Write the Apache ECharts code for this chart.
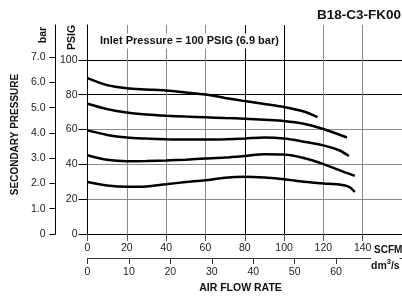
<!DOCTYPE html>
<html>
<head>
<meta charset="utf-8">
<script src="https://cdn.jsdelivr.net/npm/echarts@6/dist/echarts.min.js"></script>
<style>html,body{margin:0;padding:0;background:#fff;}#c{width:402px;height:298px;}</style>
</head>
<body>
<div id="c"></div>
<script>
// Tick labels
const flowTicks = [0, 20, 40, 60, 80, 100, 120, 140];     // SCFM
const dm3Ticks = [0, 10, 20, 30, 40, 50, 60];              // dm3/s
const psigTicks = [0, 20, 40, 60, 80, 100];                // PSIG
const barTicks = [0, 1, 2, 3, 4, 5, 6, 7];                 // bar

// Curves: [SCFM, PSIG]
const curve1 = [[0,89.5],[10,85.5],[20,83.7],[30,83.0],[40,82.4],[50,81.3],[60,80.1],[70,78.1],[80,76.3],[90,74.7],[100,72.9],[110,70.3],[117,67.1]];
const curve2 = [[0,74.8],[10,71.7],[20,69.7],[30,68.6],[40,67.9],[50,67.4],[60,67.0],[70,66.6],[80,66.2],[90,65.6],[100,64.9],[110,63.3],[120,60.3],[132,55.4]];
const curve3 = [[0,59.5],[10,56.9],[20,55.4],[30,54.8],[40,54.4],[50,54.2],[60,54.2],[70,54.4],[80,54.8],[90,55.4],[100,54.8],[110,53.0],[120,50.9],[128,48.1],[133,44.8]];
const curve4 = [[0,45.2],[10,42.6],[20,41.8],[30,41.9],[40,42.2],[50,42.7],[60,43.3],[70,43.9],[80,44.8],[90,45.8],[100,45.6],[110,43.6],[120,40.1],[130,35.8],[136,33.4]];
const curve5 = [[0,29.9],[10,27.9],[20,27.1],[30,27.3],[40,28.6],[50,29.8],[60,30.9],[70,32.3],[80,32.8],[90,32.4],[100,31.5],[110,30.0],[120,29.0],[128,28.4],[133,27.1],[136,24.2]];
const curves = [curve1, curve2, curve3, curve4, curve5];

const FONT = '"Liberation Sans", Arial, Helvetica, sans-serif';
const G = '#8a8a8a', K = '#000';

const chart = echarts.init(document.getElementById('c'), null, {renderer: 'canvas'});
chart.setOption({
  animation: false,
  backgroundColor: '#fff',
  grid: {left: 87.5, right: 0, top: 25, bottom: 64, containLabel: false},
  xAxis: [{
    type: 'value', min: 0, max: 160, interval: 20, position: 'bottom',
    axisLine: {show: true, onZero: false, lineStyle: {color: K, width: 1}},
    axisTick: {show: true, length: 7, customValues: flowTicks, lineStyle: {color: '#555'}},
    axisLabel: {customValues: flowTicks, margin: 9, fontSize: 10.5, fontFamily: FONT, color: '#222'},
    splitLine: {show: true, lineStyle: {color: [K, G, G, G, K, K, G, G, G], width: 1}}
  }, {
    type: 'value', min: 0, max: 75.9, interval: 10, position: 'bottom', offset: 24,
    axisLine: {show: true, onZero: false, lineStyle: {color: '#333', width: 1}},
    axisTick: {show: true, length: 6, customValues: dm3Ticks, lineStyle: {color: '#333'}},
    axisLabel: {customValues: dm3Ticks, margin: 9, fontSize: 10.5, fontFamily: FONT, color: '#222'},
    splitLine: {show: false}
  }],
  yAxis: [{
    type: 'value', min: 0, max: 120, interval: 20, position: 'left',
    axisLine: {show: true, onZero: false, lineStyle: {color: K, width: 1}},
    axisTick: {show: true, length: 9, customValues: psigTicks, lineStyle: {color: K}},
    axisLabel: {customValues: psigTicks, margin: 10, fontSize: 10.5, fontFamily: FONT, color: '#222'},
    splitLine: {show: true, lineStyle: {color: [K, G, G, G, K, K, K], width: 1}}
  }, {
    type: 'value', min: 0, max: 120 / 14.5038, interval: 1, position: 'left', offset: 32,
    axisLine: {show: true, onZero: false, lineStyle: {color: K, width: 1}},
    axisTick: {show: true, length: 6, customValues: barTicks, lineStyle: {color: K}},
    axisLabel: {customValues: barTicks, margin: 10, fontSize: 10.5, fontFamily: FONT, color: '#222',
      formatter: v => v === 0 ? '0' : v.toFixed(1)},
    splitLine: {show: false}
  }],
  series: curves.map(c => ({
    type: 'line', xAxisIndex: 0, yAxisIndex: 0, data: c, smooth: 0.3,
    symbol: 'none', lineStyle: {color: K, width: 2.5}
  })),
  graphic: [
    {type: 'text', x: 317, y: 15, style: {text: 'B18-C3-FK00', font: 'bold 13.5px ' + FONT, fill: '#111', verticalAlign: 'middle'}},
    {type: 'text', x: 98, y: 41, z: 100, style: {text: 'Inlet Pressure = 100 PSIG (6.9 bar)', font: 'bold 11px ' + FONT, fill: '#111', verticalAlign: 'middle', backgroundColor: '#fff', padding: [2, 2]}},
    {type: 'text', x: 15, y: 134.5, rotation: Math.PI / 2, style: {text: 'SECONDARY PRESSURE', font: 'bold 10px ' + FONT, fill: '#111', align: 'center', verticalAlign: 'middle'}},
    {type: 'text', x: 43, y: 35, rotation: Math.PI / 2, style: {text: 'bar', font: 'bold 10.5px ' + FONT, fill: '#111', align: 'center', verticalAlign: 'middle'}},
    {type: 'text', x: 72, y: 37.5, rotation: Math.PI / 2, style: {text: 'PSIG', font: 'bold 10.5px ' + FONT, fill: '#111', align: 'center', verticalAlign: 'middle'}},
    {type: 'text', x: 374, y: 250.7, z: 100, style: {text: 'SCFM', font: 'bold 10px ' + FONT, fill: '#111', verticalAlign: 'middle', backgroundColor: '#fff'}},
    {type: 'text', x: 371, y: 265, z: 100, style: {text: '{a|dm}{s|3}{a|/s}', fill: '#111', verticalAlign: 'middle', backgroundColor: '#fff',
      rich: {a: {fontSize: 10.5, fontWeight: 'bold', fontFamily: FONT, lineHeight: 14, verticalAlign: 'bottom'},
             s: {fontSize: 7.5, fontWeight: 'bold', fontFamily: FONT, lineHeight: 14, verticalAlign: 'top'}}}},
    {type: 'text', x: 240.5, y: 288.3, style: {text: 'AIR FLOW RATE', font: 'bold 10.5px ' + FONT, fill: '#111', align: 'center', verticalAlign: 'middle'}}
  ]
});
</script>
</body>
</html>
